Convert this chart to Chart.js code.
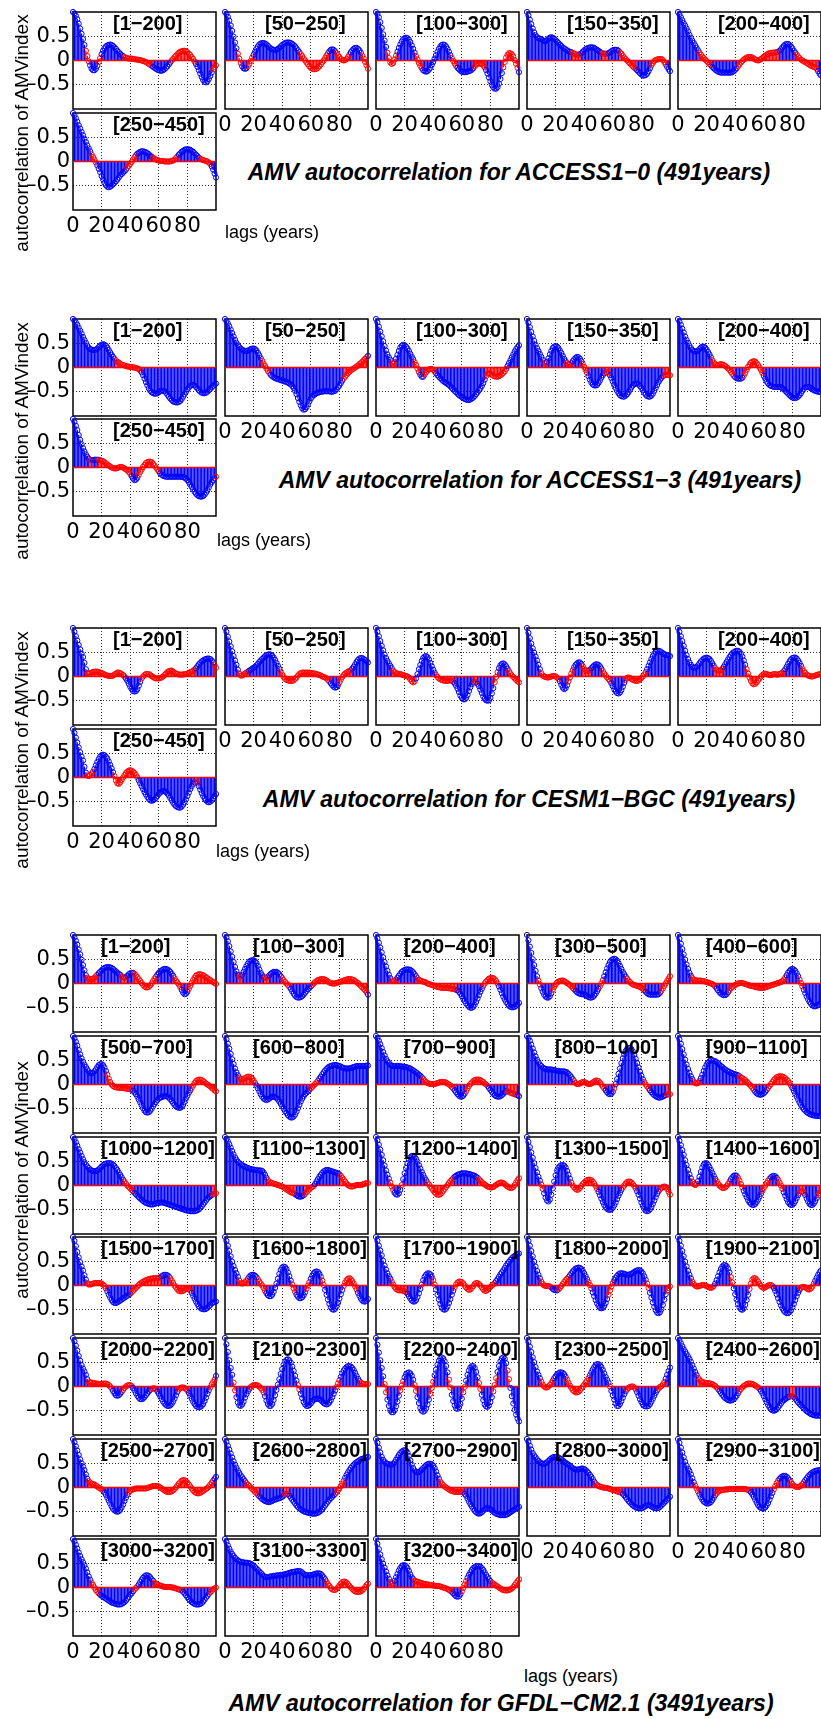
<!DOCTYPE html>
<html>
<head>
<meta charset="utf-8">
<script src="https://cdn.jsdelivr.net/npm/chart.js@4.4.0/dist/chart.umd.min.js"></script>
<style>
  html, body { margin: 0; padding: 0; background: #fff; }
  body { width: 821px; height: 1719px; position: relative; overflow: hidden; font-family: 'Liberation Sans', Arial, sans-serif; }
  canvas { position: absolute; }
  .txt { position: absolute; white-space: nowrap; color: #000; line-height: 1; }
  .win { font-weight: bold; font-size: 20px; }
  .title { font-weight: bold; font-style: italic; font-size: 23px; transform: translate(-50%, -50%); }
  .lags { font-size: 18px; transform: translateY(-50%); }
  .ylab { font-size: 19px; transform: translate(-50%, -50%) rotate(-90deg); }
</style>
</head>
<body>
<script>
// lag axis and tick labels
const lags = [];
for (let i = 0; i <= 100; i++) lags.push(i);
const xTicks = [0, 20, 40, 60, 80];
const yTicks = [-0.5, 0, 0.5];

const modelTitles = [
  'AMV autocorrelation for ACCESS1\u22120 (491years)',
  'AMV autocorrelation for ACCESS1\u22123 (491years)',
  'AMV autocorrelation for CESM1\u2212BGC (491years)',
  'AMV autocorrelation for GFDL\u2212CM2.1 (3491years)'
];

// ---------- ACCESS1-0 (acf in hundredths, lag 0..100) ----------
const access10Windows = ['[1\u2212200]', '[50\u2212250]', '[100\u2212300]', '[150\u2212350]', '[200\u2212400]', '[250\u2212450]'];
const access10Acf = [
  [100,97,92,85,76,66,55,44,32,20,9,-2,-10,-17,-20,-20,-17,-11,-3,5,13,20,25,29,31,32,33,32,30,27,24,20,17,14,11,9,7,6,5,4,4,4,3,3,2,2,1,1,0,-1,-2,-3,-5,-7,-9,-11,-13,-15,-17,-19,-20,-21,-21,-20,-18,-15,-12,-8,-4,0,3,7,10,13,16,18,19,20,20,19,17,14,11,7,3,-2,-7,-13,-20,-27,-34,-40,-44,-45,-43,-38,-32,-25,-18,-13,-10],
  [100,96,90,82,72,61,49,37,25,14,4,-5,-12,-16,-17,-16,-12,-7,-1,6,12,18,24,29,33,35,36,36,35,33,30,27,25,23,22,22,22,24,26,29,32,34,36,37,37,37,36,34,32,29,25,21,17,13,9,4,0,-4,-8,-12,-15,-17,-18,-18,-17,-15,-12,-8,-4,0,5,10,15,19,22,23,22,19,15,11,7,3,1,0,1,3,7,12,17,21,24,26,26,24,21,16,10,4,-3,-10,-17],
  [100,96,89,79,67,54,41,28,16,5,-4,-7,-5,2,10,18,26,33,39,44,46,47,46,43,38,31,24,16,9,2,-5,-11,-16,-20,-22,-23,-22,-19,-15,-9,-3,4,11,18,24,29,32,33,32,29,24,18,11,5,-1,-6,-11,-15,-18,-21,-23,-24,-24,-24,-23,-22,-21,-19,-16,-12,-9,-7,-6,-6,-7,-10,-14,-20,-27,-35,-43,-50,-55,-58,-58,-55,-48,-38,-26,-14,-3,6,12,15,15,13,8,1,-7,-15,-24],
  [100,93,84,75,66,58,52,48,46,45,44,42,40,40,42,45,47,48,47,45,42,39,36,33,30,27,25,23,21,19,18,17,16,14,13,12,12,13,15,18,21,23,25,26,27,27,27,26,24,22,20,18,16,15,14,14,14,15,17,19,21,22,22,22,20,17,14,10,6,3,0,-3,-6,-9,-12,-15,-17,-20,-23,-26,-29,-31,-31,-30,-27,-22,-16,-10,-5,-1,1,2,3,3,3,1,-3,-8,-13,-18,-22],
  [100,95,89,83,77,72,66,60,53,47,41,36,31,26,21,16,12,8,5,2,-1,-4,-7,-10,-13,-16,-19,-21,-23,-24,-25,-25,-25,-25,-25,-25,-25,-25,-24,-22,-19,-16,-12,-8,-4,-1,2,4,6,7,7,7,6,4,2,1,0,1,3,5,8,10,12,14,15,16,16,16,17,17,18,20,23,27,30,33,34,34,32,29,25,20,16,12,8,5,2,0,-2,-3,-5,-7,-9,-11,-12,-13,-14,-17,-22,-27,-31],
  [100,95,89,82,75,68,61,54,47,40,33,27,21,15,9,4,-2,-8,-15,-22,-30,-37,-44,-49,-52,-53,-52,-50,-47,-44,-41,-37,-33,-29,-26,-23,-20,-17,-13,-9,-5,-1,4,9,13,16,18,20,21,21,20,19,17,15,12,10,8,6,4,3,2,1,1,1,0,0,0,0,0,1,2,4,7,10,14,17,20,22,24,25,25,25,24,22,20,17,14,11,8,6,4,3,2,1,0,-2,-5,-10,-17,-25,-33]
];
// lag ranges drawn in blue (the rest is red)
const access10Blue = [
  [[0,8],[12,17],[20,35],[56,68],[86,97]],
  [[0,8],[12,15],[20,52],[73,77],[88,95]],
  [[0,7],[15,27],[33,52],[57,68],[77,88],[100,100]],
  [[0,31],[38,52],[57,64],[77,86],[98,100]],
  [[0,14],[24,41],[71,82],[98,100]],
  [[0,12],[17,37],[45,55],[74,88],[97,100]]
];

// ---------- ACCESS1-3 ----------
const access13Windows = ['[1\u2212200]', '[50\u2212250]', '[100\u2212300]', '[150\u2212350]', '[200\u2212400]', '[250\u2212450]'];
const access13Acf = [
  [100,97,93,88,82,76,70,63,57,51,45,41,38,37,36,36,37,39,42,45,47,48,47,45,41,36,31,26,22,18,15,12,10,8,6,5,4,3,2,2,1,1,0,0,-1,-2,-3,-6,-10,-16,-23,-30,-37,-43,-48,-51,-53,-54,-54,-53,-51,-49,-48,-48,-49,-52,-56,-60,-64,-67,-70,-71,-72,-72,-71,-69,-65,-60,-55,-50,-45,-41,-38,-36,-36,-37,-40,-43,-47,-50,-52,-53,-53,-52,-50,-47,-44,-41,-38,-35,-33],
  [100,96,91,85,78,71,64,57,51,46,42,39,37,35,34,34,35,36,38,39,39,38,35,30,25,19,14,8,3,-2,-7,-11,-15,-18,-20,-22,-23,-24,-25,-26,-27,-28,-29,-30,-31,-33,-35,-38,-42,-48,-55,-63,-71,-78,-84,-87,-86,-82,-76,-70,-64,-60,-57,-55,-53,-52,-51,-50,-50,-49,-49,-49,-49,-49,-50,-50,-49,-48,-45,-41,-37,-32,-27,-23,-19,-15,-12,-9,-6,-4,-2,0,2,4,7,9,12,15,18,21,24],
  [100,93,84,74,64,54,44,35,27,21,16,10,8,11,18,26,34,41,45,47,46,43,39,34,28,22,17,11,5,-2,-9,-15,-19,-19,-15,-10,-6,-4,-3,-3,-5,-8,-12,-16,-19,-22,-25,-28,-30,-32,-34,-36,-39,-42,-45,-48,-51,-54,-57,-59,-61,-63,-65,-66,-67,-67,-66,-64,-62,-59,-55,-51,-47,-43,-38,-32,-25,-18,-13,-12,-13,-15,-17,-18,-19,-19,-18,-16,-14,-11,-8,-3,3,9,15,21,27,33,38,42,46],
  [100,92,83,73,64,55,47,40,34,28,22,16,10,8,12,19,27,34,40,43,44,43,40,35,30,24,18,13,9,7,7,9,13,17,20,22,21,18,13,7,1,-5,-11,-18,-25,-31,-35,-37,-37,-36,-32,-27,-21,-16,-12,-10,-10,-12,-16,-22,-29,-36,-42,-48,-53,-57,-59,-60,-60,-58,-55,-51,-46,-41,-37,-34,-33,-33,-35,-38,-42,-47,-52,-56,-59,-60,-60,-58,-54,-48,-42,-36,-30,-25,-21,-18,-16,-15,-15,-16,-16],
  [100,95,88,80,72,64,57,51,45,40,36,34,33,33,35,38,41,43,43,41,37,32,27,21,15,10,7,5,5,6,7,6,5,3,1,-2,-5,-9,-13,-17,-20,-22,-23,-23,-23,-21,-17,-11,-5,1,6,10,12,13,12,9,5,0,-5,-11,-17,-23,-29,-33,-36,-38,-39,-40,-40,-40,-40,-40,-41,-43,-45,-48,-51,-54,-57,-60,-62,-63,-63,-62,-60,-57,-53,-48,-44,-41,-40,-40,-41,-43,-45,-47,-48,-49,-50,-50,-50],
  [100,94,86,77,67,57,48,40,33,27,22,18,16,15,15,16,16,16,16,15,14,13,11,9,6,4,2,0,-1,-2,-2,-1,0,1,1,0,-2,-4,-6,-9,-13,-18,-23,-26,-25,-21,-15,-9,-4,1,5,9,11,12,12,11,8,4,0,-4,-8,-12,-15,-17,-18,-19,-19,-19,-19,-19,-19,-19,-19,-19,-19,-19,-19,-20,-21,-23,-26,-30,-35,-40,-45,-50,-54,-57,-59,-60,-60,-59,-56,-52,-47,-41,-35,-30,-26,-22,-19]
];
const access13Blue = [
  [[0,29],[48,100]],
  [[0,25],[32,82],[100,100]],
  [[0,10],[14,26],[31,33],[42,76],[92,100]],
  [[0,11],[14,27],[32,38],[43,54],[58,95]],
  [[0,23],[40,45],[60,100]],
  [[0,11],[14,17],[41,45],[61,99]]
];

// ---------- CESM1-BGC ----------
const cesmWindows = ['[1\u2212200]', '[50\u2212250]', '[100\u2212300]', '[150\u2212350]', '[200\u2212400]', '[250\u2212450]'];
const cesmAcf = [
  [100,92,83,74,65,56,47,40,28,15,7,6,7,8,9,10,10,10,9,8,7,6,4,3,2,1,1,1,2,4,6,8,8,7,5,3,0,-4,-9,-15,-21,-26,-30,-31,-30,-26,-19,-11,-4,0,3,5,5,5,3,1,-1,-3,-4,-4,-4,-3,-2,0,3,6,9,11,12,12,10,8,6,5,4,4,4,4,5,5,6,7,9,10,12,14,17,21,25,28,31,33,35,36,37,37,36,33,29,24,18],
  [100,92,82,72,62,52,42,33,24,14,6,2,2,4,6,8,10,12,14,16,18,20,23,26,30,33,36,39,42,44,45,46,45,43,39,34,28,22,16,10,4,-1,-5,-7,-8,-9,-9,-9,-8,-5,-2,2,5,7,8,8,8,8,8,8,7,7,6,6,5,4,3,2,0,-1,-2,-4,-7,-10,-14,-18,-21,-23,-22,-18,-12,-6,-1,3,6,8,10,11,13,16,20,25,30,34,37,38,38,36,34,31,29],
  [100,92,83,73,63,54,45,38,32,27,22,17,12,9,7,6,5,5,4,3,2,1,0,-2,-6,-10,-12,-10,-4,5,15,24,32,38,41,42,40,35,28,21,14,8,3,-1,-4,-6,-7,-8,-9,-9,-9,-8,-8,-9,-11,-14,-19,-25,-32,-39,-44,-47,-47,-44,-38,-30,-22,-16,-12,-11,-12,-15,-20,-27,-34,-41,-46,-49,-50,-49,-44,-35,-24,-12,-1,9,17,23,26,27,25,21,16,11,6,2,-1,-4,-7,-10,-12],
  [100,90,79,68,58,49,41,33,24,15,7,2,0,-1,-2,-2,-1,0,1,1,0,-2,-5,-10,-17,-23,-26,-24,-18,-10,-2,6,13,19,24,27,29,29,26,21,16,13,12,12,14,17,20,23,25,25,24,21,16,11,6,2,-2,-5,-9,-14,-20,-26,-31,-34,-35,-33,-28,-21,-13,-7,-3,-2,-3,-5,-7,-8,-9,-9,-8,-6,-3,0,4,9,15,22,29,36,42,47,51,53,53,52,50,48,46,45,44,43,42],
  [100,92,83,73,63,53,44,36,29,24,20,18,18,20,23,27,31,34,37,38,39,38,36,32,27,22,17,14,12,12,13,16,20,25,30,35,40,44,48,50,52,53,53,51,47,41,33,24,15,6,-2,-9,-14,-16,-15,-12,-8,-4,0,3,5,6,5,4,3,3,4,5,5,4,4,5,6,8,11,15,20,26,31,35,38,39,39,37,33,28,22,16,11,7,4,2,1,0,0,1,2,3,4,5,5],
  [100,92,82,72,62,52,43,35,22,10,4,3,5,8,12,18,25,32,38,43,46,47,46,43,39,33,26,19,11,3,-6,-12,-13,-10,-5,0,5,9,12,14,15,14,12,9,5,0,-6,-12,-18,-24,-30,-35,-40,-44,-47,-48,-47,-45,-42,-38,-34,-31,-29,-28,-28,-30,-33,-37,-42,-47,-52,-56,-59,-61,-62,-62,-60,-56,-51,-45,-38,-31,-24,-18,-13,-10,-9,-12,-18,-25,-32,-38,-43,-47,-50,-51,-50,-47,-43,-38,-34]
];
const cesmBlue = [
  [[0,9],[37,47],[86,98]],
  [[0,9],[17,38],[74,79],[89,100]],
  [[0,11],[28,41],[55,68],[71,82],[86,92]],
  [[0,9],[23,28],[33,38],[45,52],[59,68],[84,100]],
  [[0,25],[32,47],[75,86]],
  [[0,9],[15,28],[46,85],[88,100]]
];

// ---------- GFDL-CM2.1 ----------
const gfdlWindows = [
  '[1\u2212200]', '[100\u2212300]', '[200\u2212400]', '[300\u2212500]', '[400\u2212600]',
  '[500\u2212700]', '[600\u2212800]', '[700\u2212900]', '[800\u22121000]', '[900\u22121100]',
  '[1000\u22121200]', '[1100\u22121300]', '[1200\u22121400]', '[1300\u22121500]', '[1400\u22121600]',
  '[1500\u22121700]', '[1600\u22121800]', '[1700\u22121900]', '[1800\u22122000]', '[1900\u22122100]',
  '[2000\u22122200]', '[2100\u22122300]', '[2200\u22122400]', '[2300\u22122500]', '[2400\u22122600]',
  '[2500\u22122700]', '[2600\u22122800]', '[2700\u22122900]', '[2800\u22123000]', '[2900\u22123100]',
  '[3000\u22123200]', '[3100\u22123300]', '[3200\u22123400]'
];
const gfdlAcf = [
  [100,95,88,80,70,60,49,38,27,17,12,10,9,9,10,12,15,18,21,24,27,30,32,33,34,34,33,32,30,27,25,22,20,18,15,13,12,13,16,19,21,22,22,20,17,13,9,5,1,-3,-6,-8,-8,-7,-4,0,5,10,14,18,22,25,27,29,30,30,29,27,24,20,16,11,6,2,-2,-7,-13,-19,-22,-21,-17,-11,-5,1,7,12,16,18,19,19,18,17,15,13,11,9,7,5,3,1,-1],
  [100,95,87,77,66,55,44,34,25,18,15,15,18,24,30,36,41,45,47,48,48,46,42,36,29,22,17,13,12,12,14,17,20,22,24,24,24,22,19,15,11,7,3,0,-3,-7,-11,-16,-21,-25,-28,-29,-29,-28,-26,-23,-19,-15,-12,-9,-6,-3,0,3,5,7,8,9,9,9,8,6,4,2,1,0,0,0,1,2,3,4,5,6,7,8,9,9,9,8,7,5,3,1,-2,-5,-8,-11,-14,-18,-23],
  [100,93,84,74,64,54,44,35,26,18,11,6,5,6,8,12,16,20,24,26,28,29,29,29,28,26,23,19,15,11,8,6,5,4,3,2,0,-1,-2,-3,-4,-5,-6,-7,-8,-8,-9,-9,-9,-9,-9,-10,-10,-11,-11,-12,-13,-14,-17,-21,-26,-31,-36,-41,-45,-48,-50,-50,-48,-44,-38,-31,-24,-17,-11,-5,0,4,7,10,11,12,11,9,5,0,-6,-13,-20,-27,-33,-38,-42,-46,-48,-49,-49,-48,-46,-43,-40],
  [100,89,76,63,50,38,26,15,6,-2,-10,-17,-23,-27,-29,-29,-26,-20,-13,-7,-2,2,4,5,6,6,5,3,1,-1,-3,-6,-9,-12,-15,-18,-20,-21,-22,-22,-23,-24,-26,-28,-29,-29,-28,-25,-21,-16,-11,-6,0,7,15,23,31,38,44,48,50,51,50,47,42,36,30,24,19,14,10,6,3,0,-2,-3,-4,-5,-6,-7,-9,-11,-14,-17,-20,-22,-23,-23,-23,-23,-23,-23,-22,-19,-15,-10,-5,0,5,10,15],
  [100,92,82,71,60,49,39,30,22,16,11,8,7,6,6,6,6,5,5,4,3,2,1,0,-1,-3,-6,-10,-14,-18,-21,-23,-24,-24,-22,-18,-14,-10,-7,-5,-3,-1,0,1,1,1,0,-1,-2,-3,-4,-5,-5,-6,-7,-8,-8,-9,-9,-9,-9,-8,-7,-6,-5,-4,-3,-2,-1,0,1,2,3,5,8,12,17,22,26,29,30,29,26,21,15,8,1,-6,-13,-20,-27,-33,-38,-42,-45,-47,-47,-46,-44,-42,-40],
  [100,95,88,80,71,62,54,47,41,36,31,27,24,23,24,27,31,36,40,42,42,40,35,28,20,12,5,0,-3,-5,-6,-6,-7,-7,-7,-7,-8,-8,-9,-9,-10,-11,-13,-16,-20,-25,-31,-37,-43,-49,-54,-57,-58,-57,-54,-50,-45,-40,-36,-32,-29,-27,-26,-25,-24,-24,-25,-27,-30,-34,-38,-42,-45,-47,-48,-48,-46,-42,-36,-29,-23,-17,-12,-7,-2,3,7,9,10,10,9,7,5,2,0,-2,-4,-7,-9,-12,-14],
  [100,93,84,74,63,52,42,33,25,19,14,11,10,11,13,15,16,16,15,12,8,3,-2,-8,-14,-20,-25,-29,-31,-32,-31,-29,-27,-25,-25,-26,-28,-31,-35,-40,-45,-50,-55,-59,-63,-66,-68,-68,-66,-62,-56,-49,-42,-35,-29,-24,-20,-17,-14,-11,-8,-5,-2,1,4,8,12,16,21,25,29,32,35,37,38,39,40,40,40,39,38,37,35,34,33,33,33,33,34,35,36,37,38,38,38,38,38,38,38,39,39],
  [100,96,90,83,75,67,60,53,48,44,41,39,38,38,38,38,38,38,37,37,36,36,35,34,33,31,29,27,25,23,20,18,15,12,8,5,3,2,1,1,1,1,2,3,4,5,5,5,5,4,2,0,-2,-5,-8,-12,-16,-20,-23,-25,-25,-23,-19,-14,-8,-3,1,4,7,9,10,10,10,9,7,5,2,0,-3,-7,-11,-15,-19,-22,-24,-25,-25,-24,-22,-19,-16,-14,-14,-15,-17,-18,-19,-20,-21,-22,-24],
  [100,96,90,82,74,66,58,51,46,41,38,35,33,32,31,31,31,31,30,30,29,28,28,27,27,27,27,26,25,22,19,15,11,7,3,1,1,2,4,5,5,4,2,1,1,2,4,6,8,8,7,4,0,-4,-8,-12,-16,-19,-20,-19,-15,-8,1,11,22,33,44,54,62,69,73,75,75,73,68,61,53,44,35,26,18,11,5,0,-4,-8,-12,-16,-19,-22,-24,-26,-27,-27,-26,-25,-23,-22,-21,-20,-20],
  [100,93,84,73,62,51,41,32,24,17,11,6,3,2,3,7,13,20,28,35,41,45,48,50,50,49,48,46,44,41,38,36,33,31,29,27,26,24,23,22,21,20,19,17,15,13,11,9,6,3,0,-3,-7,-11,-15,-18,-20,-21,-21,-20,-18,-15,-11,-7,-3,1,5,9,12,15,16,17,17,16,15,13,10,7,3,-2,-7,-13,-19,-25,-31,-37,-42,-47,-51,-54,-57,-59,-61,-62,-63,-64,-64,-65,-65,-65,-65],
  [100,95,89,82,75,68,61,54,48,43,39,36,33,31,30,29,30,31,33,36,39,42,44,45,46,46,46,45,43,40,36,32,27,22,17,12,8,4,0,-3,-6,-9,-12,-15,-18,-21,-24,-27,-29,-32,-34,-36,-37,-38,-39,-39,-39,-38,-37,-36,-36,-35,-35,-35,-36,-37,-38,-39,-40,-41,-42,-43,-44,-45,-46,-47,-48,-49,-50,-51,-52,-52,-53,-53,-53,-53,-52,-51,-49,-46,-43,-39,-35,-31,-27,-24,-22,-20,-18,-17,-16],
  [100,96,91,85,78,71,64,58,53,49,46,44,42,40,39,37,36,35,34,33,33,32,32,31,31,31,30,27,22,16,11,8,6,5,4,3,2,1,0,-1,-2,-4,-6,-8,-10,-12,-14,-15,-16,-18,-20,-22,-23,-23,-22,-20,-17,-14,-11,-8,-5,-3,-1,3,8,13,18,22,26,29,31,32,32,31,30,29,28,27,26,25,23,20,16,12,8,4,1,-1,-2,-2,-1,0,1,1,1,1,2,3,4,5,5],
  [100,93,84,74,63,52,41,31,22,14,6,-2,-9,-15,-18,-19,-16,-9,1,13,25,36,46,53,58,61,61,59,55,49,42,35,28,22,16,11,6,2,-2,-6,-10,-14,-17,-19,-19,-18,-15,-11,-7,-3,1,5,9,12,15,18,20,22,23,24,25,25,25,25,24,24,23,22,21,20,18,16,13,10,7,4,2,0,-2,-3,-4,-4,-3,-1,1,3,5,6,6,5,3,0,-2,-4,-5,-5,-3,1,6,11,15],
  [100,90,79,68,57,46,36,27,18,10,2,-7,-16,-25,-31,-33,-29,-19,-6,8,21,31,37,40,42,42,41,37,30,22,14,6,0,-4,-7,-9,-8,-5,-1,3,6,9,11,12,12,11,8,4,-1,-7,-13,-20,-27,-34,-40,-45,-48,-50,-50,-49,-46,-41,-35,-28,-21,-15,-9,-4,0,4,7,8,8,6,3,-1,-6,-12,-19,-27,-35,-42,-48,-52,-53,-52,-49,-44,-38,-31,-24,-17,-12,-8,-5,-3,-2,-3,-7,-13,-19],
  [100,92,83,73,63,52,42,32,23,15,8,3,1,3,9,18,28,37,43,46,46,43,38,32,26,20,14,9,4,0,-3,-5,-5,-4,-1,3,8,13,17,20,21,20,16,10,3,-4,-11,-18,-24,-30,-35,-38,-40,-40,-38,-34,-29,-23,-17,-11,-5,0,5,10,14,17,19,20,19,16,12,6,0,-7,-14,-21,-28,-34,-38,-40,-40,-37,-32,-26,-20,-15,-12,-12,-15,-20,-27,-33,-38,-40,-40,-37,-32,-26,-20,-15,-12],
  [100,92,81,69,58,48,39,31,21,12,5,2,2,3,4,5,5,5,5,5,4,2,-1,-6,-12,-19,-25,-30,-34,-36,-36,-35,-33,-31,-29,-27,-25,-23,-21,-19,-17,-14,-11,-8,-5,-2,1,4,6,8,9,11,12,13,14,14,15,15,15,15,16,17,19,21,22,22,21,19,15,10,5,0,-4,-8,-11,-12,-12,-11,-9,-7,-6,-7,-10,-15,-21,-27,-33,-38,-43,-46,-48,-49,-49,-48,-46,-43,-40,-37,-35,-34,-33],
  [100,92,82,71,60,49,40,32,25,18,10,5,4,5,7,10,14,18,21,22,22,20,17,13,8,4,0,-5,-11,-16,-20,-22,-22,-19,-13,-5,4,14,24,32,37,39,38,34,27,19,10,2,-6,-13,-19,-23,-26,-26,-24,-20,-14,-7,0,7,14,20,25,28,29,28,24,18,10,1,-9,-19,-29,-38,-45,-49,-50,-48,-43,-36,-27,-18,-9,-1,6,11,14,15,13,9,4,-2,-8,-15,-21,-27,-31,-33,-33,-31,-28],
  [100,92,82,72,62,51,41,33,25,19,14,8,2,-3,-7,-9,-10,-10,-10,-11,-12,-14,-17,-22,-27,-31,-33,-33,-30,-24,-16,-7,2,11,18,22,25,25,23,18,11,2,-8,-19,-29,-38,-45,-49,-50,-48,-43,-36,-28,-19,-11,-4,2,6,8,8,7,4,0,-4,-7,-9,-8,-5,-1,3,5,5,3,0,-4,-8,-11,-11,-9,-6,-3,0,2,5,9,13,18,23,27,31,36,41,45,49,53,56,59,61,63,65,66],
  [100,92,82,71,60,49,39,30,22,15,8,3,0,-1,-1,-1,-2,-4,-7,-9,-10,-10,-8,-5,-1,3,7,11,14,17,21,25,29,32,35,36,37,36,34,30,25,19,13,7,1,-6,-14,-22,-30,-37,-42,-46,-47,-46,-42,-36,-28,-19,-10,-2,5,11,16,20,23,25,25,25,24,23,22,22,23,24,26,28,30,31,32,31,29,25,19,12,4,-5,-15,-25,-35,-44,-51,-56,-57,-55,-49,-40,-29,-18,-10,-5,-2],
  [100,92,82,71,60,49,39,30,22,15,8,3,0,-2,-2,-1,0,1,1,0,-1,-3,-4,-5,-4,-1,4,11,19,27,34,39,42,42,40,35,27,17,6,-6,-18,-29,-38,-45,-49,-50,-47,-40,-30,-19,-7,4,12,15,15,12,8,3,-1,-4,-5,-4,-2,0,1,1,-1,-5,-11,-18,-26,-34,-41,-47,-52,-55,-57,-57,-55,-51,-45,-38,-30,-22,-15,-9,-5,-3,-3,-4,-6,-8,-8,-6,-2,4,10,16,22,27,31],
  [100,93,84,74,63,53,44,37,31,24,15,10,8,8,7,7,6,6,5,5,5,6,6,6,5,3,0,-4,-9,-14,-18,-19,-18,-15,-11,-7,-3,0,2,3,3,1,-3,-8,-14,-19,-23,-26,-26,-25,-22,-18,-14,-10,-7,-5,-4,-4,-6,-10,-15,-20,-26,-31,-35,-38,-40,-40,-39,-36,-31,-25,-18,-11,-6,-3,-2,-2,-3,-5,-8,-13,-19,-25,-31,-36,-40,-42,-43,-42,-40,-36,-30,-23,-15,-8,-2,4,9,14,22],
  [100,87,71,54,38,24,8,-8,-22,-33,-39,-40,-37,-31,-23,-16,-10,-5,-1,1,3,3,3,2,0,-3,-7,-12,-20,-29,-36,-40,-40,-36,-28,-18,-7,4,15,26,36,45,51,55,56,54,49,41,32,22,12,3,-6,-15,-24,-32,-37,-40,-40,-38,-35,-31,-28,-26,-25,-25,-26,-28,-31,-34,-36,-37,-36,-33,-28,-22,-15,-8,-1,6,13,20,27,33,37,40,42,42,41,38,34,28,22,16,11,8,6,5,5,5,5],
  [100,86,70,54,38,21,5,-12,-27,-40,-49,-53,-53,-49,-41,-31,-19,-8,2,11,19,25,28,29,27,22,14,3,-9,-22,-34,-44,-50,-52,-50,-45,-37,-27,-15,-3,10,23,35,45,53,58,60,58,52,42,29,14,-2,-17,-30,-39,-45,-46,-43,-36,-25,-12,-1,12,24,33,39,42,42,38,30,19,7,-5,-17,-28,-37,-41,-42,-39,-32,-22,-10,3,17,30,42,52,58,60,57,48,33,15,-3,-20,-35,-48,-58,-66,-72],
  [100,92,82,71,60,50,40,31,24,17,10,4,0,-2,-2,0,3,7,12,17,21,25,27,29,29,28,25,20,14,8,2,-3,-7,-10,-12,-12,-11,-8,-4,0,4,8,12,17,23,29,35,40,44,46,46,44,40,34,27,20,14,8,0,-9,-18,-27,-35,-40,-40,-36,-30,-23,-16,-10,-6,-3,-1,0,0,-2,-6,-12,-19,-26,-32,-37,-40,-41,-41,-40,-36,-31,-25,-19,-13,-8,-4,-1,1,4,9,16,24,32,39],
  [100,95,89,83,77,72,67,62,57,51,44,37,30,24,18,14,11,9,8,8,7,7,6,6,5,3,1,-2,-5,-9,-13,-17,-21,-24,-26,-28,-29,-29,-28,-26,-23,-19,-14,-9,-5,-2,1,3,5,6,6,6,5,4,2,0,-2,-5,-9,-14,-20,-26,-32,-38,-43,-47,-49,-50,-49,-47,-43,-39,-35,-31,-28,-26,-24,-22,-21,-20,-20,-22,-25,-29,-33,-36,-39,-42,-45,-48,-51,-53,-55,-57,-58,-59,-60,-60,-60,-60,-60],
  [100,93,85,76,67,58,50,43,36,27,18,13,10,8,7,6,4,2,0,-2,-4,-6,-10,-15,-21,-27,-33,-39,-44,-47,-49,-50,-49,-46,-41,-35,-28,-21,-15,-10,-7,-5,-4,-3,-2,-2,-2,-2,-2,-2,-2,-2,-1,0,1,2,3,3,3,3,2,0,-2,-4,-6,-8,-9,-9,-9,-8,-6,-3,0,4,8,11,14,15,15,13,10,6,2,-2,-6,-9,-11,-12,-12,-11,-9,-7,-5,-3,-1,2,6,10,14,18,22],
  [100,94,86,78,70,62,54,47,41,35,30,25,21,17,13,9,6,3,0,-3,-6,-9,-12,-15,-18,-21,-24,-26,-28,-29,-30,-30,-29,-28,-26,-25,-24,-23,-22,-21,-19,-17,-14,-13,-14,-17,-21,-25,-29,-33,-37,-40,-43,-45,-47,-49,-50,-51,-52,-53,-53,-54,-54,-54,-53,-52,-50,-48,-45,-41,-37,-33,-29,-25,-22,-19,-16,-13,-10,-6,-2,3,8,14,20,26,31,36,40,44,47,50,52,54,56,58,59,60,61,62,63],
  [100,92,82,72,63,57,53,50,49,48,47,47,49,52,57,62,67,71,74,76,77,76,72,65,56,47,40,35,32,31,32,34,37,40,43,46,48,49,49,48,45,40,33,25,18,12,8,5,2,0,-2,-4,-6,-7,-8,-9,-9,-9,-9,-9,-9,-10,-13,-17,-23,-29,-34,-39,-44,-48,-51,-53,-54,-53,-51,-48,-45,-43,-43,-43,-45,-47,-50,-52,-54,-55,-56,-57,-57,-57,-57,-56,-55,-53,-51,-49,-47,-45,-43,-41,-40],
  [100,94,86,78,71,66,62,58,55,52,50,49,49,50,52,55,58,60,62,63,63,63,62,60,58,56,53,51,49,47,45,42,40,38,37,37,37,38,39,39,38,36,33,30,26,22,17,12,8,5,3,2,1,0,0,-1,-1,-2,-3,-4,-5,-6,-7,-8,-9,-10,-11,-13,-16,-20,-24,-28,-31,-34,-37,-39,-41,-42,-43,-43,-43,-42,-40,-38,-37,-36,-37,-39,-41,-42,-43,-43,-42,-40,-37,-34,-31,-28,-25,-22,-19],
  [100,92,82,72,62,53,45,39,34,27,19,11,4,-2,-8,-14,-20,-25,-29,-31,-33,-33,-32,-30,-26,-21,-16,-12,-9,-7,-6,-5,-5,-4,-4,-4,-3,-3,-3,-3,-3,-3,-3,-3,-3,-3,-3,-3,-4,-5,-7,-10,-14,-19,-25,-31,-36,-40,-42,-43,-43,-41,-37,-32,-25,-18,-11,-4,3,9,14,18,21,23,24,24,22,19,15,11,7,4,2,1,1,2,4,7,11,15,19,23,26,29,31,33,34,35,35,36,36],
  [100,95,88,80,72,65,58,52,46,39,31,23,16,10,5,0,-5,-9,-12,-15,-17,-19,-21,-23,-25,-27,-29,-31,-32,-33,-34,-35,-35,-35,-34,-32,-30,-27,-23,-19,-15,-12,-8,-4,-1,2,6,11,16,20,23,25,25,24,21,17,14,10,8,6,5,4,3,2,1,1,1,1,1,0,0,-1,-2,-3,-4,-5,-6,-9,-12,-16,-20,-24,-27,-30,-32,-34,-35,-35,-35,-34,-32,-29,-25,-21,-17,-13,-10,-7,-4,-2,0],
  [100,94,87,80,74,69,65,61,58,56,54,53,52,52,51,51,51,50,49,47,45,42,39,36,33,30,27,24,22,21,21,22,23,23,24,24,25,25,25,26,26,27,27,28,29,30,31,32,32,33,33,34,34,33,31,28,26,25,25,25,26,26,27,28,29,29,29,28,25,21,17,12,7,3,-1,-4,-5,-5,-3,0,4,8,11,12,12,10,7,3,0,-3,-6,-8,-9,-9,-9,-8,-6,-3,1,5,8],
  [100,90,79,68,58,49,41,33,25,18,11,8,9,14,21,28,35,40,44,46,46,44,40,34,27,21,17,14,13,12,11,10,9,8,7,7,6,6,5,5,4,4,3,3,3,2,1,0,-1,-2,-3,-5,-7,-9,-12,-15,-18,-19,-18,-14,-8,-1,6,13,20,26,31,36,40,42,44,44,44,43,40,36,31,26,21,17,13,10,8,6,4,2,0,-2,-4,-5,-6,-6,-6,-5,-4,-2,1,5,9,13,17]
];
const gfdlBlue = [
  [[0,9],[18,33],[38,42],[59,70],[76,80]],
  [[0,9],[12,27],[31,39],[46,60],[100,100]],
  [[0,10],[15,28],[57,74],[86,100]],
  [[0,7],[10,17],[34,50],[54,69],[83,93]],
  [[0,9],[27,35],[76,84],[88,100]],
  [[0,23],[42,82]],
  [[0,9],[22,59],[66,100]],
  [[0,32],[55,62],[79,91],[99,100]],
  [[0,32],[55,60],[62,81],[86,97]],
  [[0,10],[16,42],[54,62],[80,100]],
  [[0,35],[43,97]],
  [[0,29],[50,55],[63,80]],
  [[0,9],[13,17],[19,35],[55,71]],
  [[0,9],[12,30],[50,66],[77,92]],
  [[0,9],[14,26],[37,41],[46,58],[65,69],[74,84],[89,97]],
  [[0,9],[24,40],[62,67],[83,100]],
  [[0,9],[17,22],[29,46],[50,56],[60,67],[70,82],[93,100]],
  [[0,10],[22,31],[33,39],[42,54],[84,100]],
  [[0,9],[18,21],[30,42],[46,56],[61,83],[86,97]],
  [[0,9],[26,36],[39,49],[67,85],[96,100]],
  [[0,10],[28,34],[42,54],[59,73],[81,95],[100,100]],
  [[0,5],[8,17],[28,50],[53,77],[81,94]],
  [[0,5],[8,16],[20,26],[29,37],[41,50],[53,60],[63,71],[74,81],[85,91],[94,100]],
  [[0,9],[19,27],[44,57],[59,69],[77,91],[97,100]],
  [[0,13],[29,42],[58,78],[82,100]],
  [[0,10],[22,38],[99,100]],
  [[0,14],[24,41],[45,77],[84,100]],
  [[0,44],[62,100]],
  [[0,47],[67,100]],
  [[0,11],[15,26],[51,66],[71,78],[89,100]],
  [[0,12],[19,42],[46,56],[77,95]],
  [[0,70]],
  [[0,9],[13,26],[54,59],[64,80]]
];

// ---------- layout ----------
const colLeft = [73, 225, 376, 527, 678];
const panelW = 143, panelH = 97;
const BLUE = '#0000ff', RED = '#ff0000';
const tickFont = { family: 'DejaVu Sans', size: 21 };

const groups = [
  { windows: access10Windows, acf: access10Acf, blue: access10Blue, rows: [12, 113],
    labelOff: 40, title: modelTitles[0], tx: 509, ty: 172, lx: 225, ly: 232, yl: 133 },
  { windows: access13Windows, acf: access13Acf, blue: access13Blue, rows: [319, 419],
    labelOff: 40, title: modelTitles[1], tx: 540, ty: 480, lx: 217, ly: 540, yl: 441 },
  { windows: cesmWindows, acf: cesmAcf, blue: cesmBlue, rows: [628, 729],
    labelOff: 40, title: modelTitles[2], tx: 529, ty: 799, lx: 216, ly: 851, yl: 750 },
  { windows: gfdlWindows, acf: gfdlAcf, blue: gfdlBlue, rows: [935, 1036, 1137, 1237, 1338, 1439, 1539],
    labelOff: 28, title: modelTitles[3], tx: 501, ty: 1703, lx: 524, ly: 1676, yl: 1180 }
];

// black box round each panel
const framePlugin = {
  id: 'frame',
  beforeDatasetsDraw(chart) {
    const a = chart.chartArea, c = chart.ctx;
    c.save();
    c.strokeStyle = '#000';
    c.lineWidth = 1.5;
    c.strokeRect(a.left, a.top, a.right - a.left, a.bottom - a.top);
    c.restore();
  }
};

function stemColours(blue) {
  return lags.map(function (l) {
    for (const r of blue) if (l >= r[0] && l <= r[1]) return BLUE;
    return RED;
  });
}

function yLabel(v) {
  if (yTicks.indexOf(v) < 0) return '';
  return v < 0 ? '\u2013' + String(-v) : String(v);
}

function drawPanel(x0, y0, acf, blue, showX, showY) {
  const L = showY ? 54 : 0, B = showX ? 30 : 0, pad = 10;
  const canvas = document.createElement('canvas');
  canvas.width = pad + L + panelW + pad;
  canvas.height = pad + panelH + (showX ? B : pad);
  canvas.style.left = (x0 - L - pad) + 'px';
  canvas.style.top = (y0 - pad) + 'px';
  document.body.appendChild(canvas);

  const pts = lags.map(function (l, i) { return { x: l, y: acf[i] / 100 }; });
  const cols = stemColours(blue);

  new Chart(canvas, {
    type: 'scatter',
    data: {
      datasets: [
        { type: 'scatter', data: pts, pointRadius: 2.6, pointBorderWidth: 1,
          pointBorderColor: cols, pointBackgroundColor: 'rgba(0,0,0,0)', order: 0, clip: false },
        { type: 'line', data: [{ x: 0, y: 0 }, { x: 100, y: 0 }], borderColor: RED,
          borderWidth: 1.5, pointRadius: 0, order: 1 },
        { type: 'bar', data: pts, backgroundColor: cols, borderWidth: 0, barThickness: 0.6, order: 2 }
      ]
    },
    options: {
      responsive: false,
      animation: false,
      devicePixelRatio: 1,
      layout: { padding: { left: pad, right: pad, top: pad, bottom: showX ? 0 : pad } },
      plugins: { legend: { display: false }, tooltip: { enabled: false } },
      scales: {
        x: {
          type: 'linear', min: 0, max: 100, offset: false,
          afterFit: function (s) { s.height = B; s.paddingLeft = 0; s.paddingRight = 0; },
          ticks: { display: showX, stepSize: 20, autoSkip: false, maxRotation: 0, minRotation: 0,
                   padding: 4, color: '#000', font: tickFont,
                   callback: function (v) { return xTicks.indexOf(v) >= 0 ? String(v) : ''; } },
          grid: { drawTicks: false, offset: false, lineWidth: 1,
                  color: function (c) { return (c.tick && c.tick.value > 0 && c.tick.value < 100) ? '#333' : 'rgba(0,0,0,0)'; } },
          border: { display: false, dash: [1, 2] }
        },
        y: {
          type: 'linear', min: -1, max: 1,
          afterFit: function (s) { s.width = L; s.paddingTop = 0; s.paddingBottom = 0; },
          ticks: { display: showY, stepSize: 0.5, autoSkip: false, padding: 3, color: '#000',
                   font: tickFont, callback: yLabel },
          grid: { drawTicks: false, lineWidth: 1,
                  color: function (c) { return (c.tick && Math.abs(c.tick.value) === 0.5) ? '#333' : 'rgba(0,0,0,0)'; } },
          border: { display: false, dash: [1, 2] }
        }
      }
    },
    plugins: [framePlugin]
  });
}

function addText(cls, text, x, y) {
  const d = document.createElement('div');
  d.className = 'txt ' + cls;
  d.textContent = text;
  d.style.left = x + 'px';
  d.style.top = y + 'px';
  document.body.appendChild(d);
}

groups.forEach(function (g) {
  const n = g.windows.length;
  for (let i = 0; i < n; i++) {
    const col = i % 5, row = Math.floor(i / 5);
    const lastInColumn = (i + 5) >= n;
    drawPanel(colLeft[col], g.rows[row], g.acf[i], g.blue[i], lastInColumn, col === 0);
  }
});

groups.forEach(function (g) {
  for (let i = 0; i < g.windows.length; i++) {
    addText('win', g.windows[i], colLeft[i % 5] + g.labelOff, g.rows[Math.floor(i / 5)] + 1);
  }
  addText('title', g.title, g.tx, g.ty);
  addText('lags', 'lags (years)', g.lx, g.ly);
  addText('ylab', 'autocorrelation of AMVindex', 21, g.yl);
});
</script>
</body>
</html>
